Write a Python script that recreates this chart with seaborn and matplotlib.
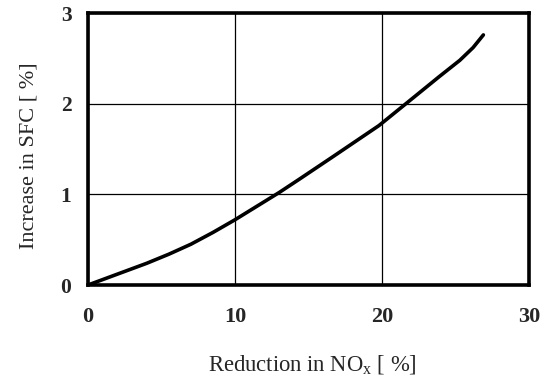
import matplotlib
matplotlib.use("Agg")
import matplotlib.pyplot as plt
import seaborn as sns
import pandas as pd

nox_reduction = [0, 2, 4, 5.5, 7, 8.5, 10, 11.5, 13, 14.4, 16.7, 19.8, 21.7, 23.9, 25.3, 26.2, 26.9]
sfc_increase = [0, 0.12, 0.24, 0.34, 0.45, 0.58, 0.72, 0.87, 1.02, 1.17, 1.42, 1.76, 2.01, 2.30, 2.48, 2.62, 2.76]
x_ticks = [0, 10, 20, 30]
y_ticks = [0, 1, 2, 3]

df = pd.DataFrame({"x": nox_reduction, "y": sfc_increase})

sns.set_style("white")
plt.rcParams['font.family'] = ['Liberation Serif', 'DejaVu Serif']
plt.rcParams['mathtext.fontset'] = 'custom'
plt.rcParams['mathtext.rm'] = 'Liberation Serif'
plt.rcParams['mathtext.it'] = 'Liberation Serif'

fig = plt.figure(figsize=(5.45, 3.76), dpi=100)
ax = fig.add_axes([0.1615, 0.242, 0.809, 0.723])
sns.lineplot(data=df, x="x", y="y", ax=ax, color="black", linewidth=2.6)
ax.lines[0].set_solid_joinstyle('round')
ax.lines[0].set_solid_capstyle('round')

ax.set_xlim(0, 30)
ax.set_ylim(0, 3)
ax.set_xticks(x_ticks)
ax.set_yticks(y_ticks)
ax.set_xticklabels([str(t) for t in x_ticks], fontsize=16, fontweight='bold')
ax.set_yticklabels([str(t) for t in y_ticks], fontsize=15.5, fontweight='bold')
ax.tick_params(axis='x', length=0, pad=16)
ax.tick_params(axis='y', length=0, pad=12)
ax.grid(True, color='black', linewidth=0.9)
for s in ax.spines.values():
    s.set_visible(True)
    s.set_color('black')
    s.set_linewidth(2.6)
ax.set_xlabel("Reduction in NO$_\\mathrm{x}$ [ %]", fontsize=16.3)
ax.set_ylabel("Increase in SFC [ %]", fontsize=16)
ax.xaxis.set_label_coords(0.508, -0.25)
ax.yaxis.set_label_coords(-0.112, 0.474)

fig.savefig("out.png", dpi=100)
